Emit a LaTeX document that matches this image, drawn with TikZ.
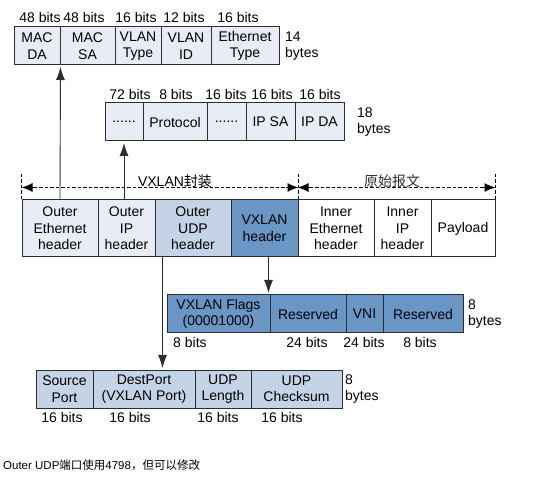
\documentclass[tikz,border=0pt]{standalone}
\usepackage{fontspec}
\setmainfont{Liberation Sans}
\newfontfamily\cjk{Noto Sans CJK SC}
\usepackage{tikz}
\usetikzlibrary{positioning,arrows.meta,calc}
\definecolor{framegray}{RGB}{45,45,45}
\definecolor{paleblue}{RGB}{232,236,244}
\definecolor{udpblue}{RGB}{196,211,229}
\definecolor{vxblue}{RGB}{106,150,198}
\tikzset{
    field/.style = {
        draw=framegray,
        shape=rectangle,
        inner sep=0pt,
        align=center,
        line width=1pt,
        font=\fontsize{14}{16.5}\selectfont
    },
    note/.style = {
        inner sep=0pt,
        align=left,
        font=\fontsize{14}{16.5}\selectfont
    },
    span/.style = {
        draw,
        line width=1.7pt,
        dash pattern=on 3.5pt off 2pt
    },
    spanhead/.style = {
        draw,
        solid,
        line width=1.2pt,
        -{Latex[length=11pt,width=9pt]}
    },
    tick/.style = {
        draw,
        line width=1.7pt,
        dash pattern=on 3.5pt off 2pt
    },
    link/.style = {
        draw=framegray,
        line width=0.9pt,
        shorten >=1.5pt,
        ->
    },
    >={Latex[length=13pt,width=9pt]},
}
\begin{document}
\begin{tikzpicture}[x=1pt,y=-1pt]
                \useasboundingbox (0,0) rectangle (536,481);

                % Ethernet header
                \node[field, fill=paleblue, minimum width=46, minimum height=38] (macda) at (37,46) {MAC\\DA};
                \node[field, fill=paleblue, minimum width=55, minimum height=38] (macsa) at (87.5,46) {MAC\\SA};
                \node[field, fill=paleblue, minimum width=46, minimum height=38] (vtype) at (138,46) {VLAN\\Type};
                \node[field, fill=paleblue, minimum width=50, minimum height=38] (vid) at (186,46) {VLAN\\ID};
                \node[field, fill=paleblue, minimum width=68, minimum height=38] (etype) at (245,46) {Ethernet\\Type};
                \node[note] (bitsda) at (40,17) {48 bits};
                \node[note] (bitssa) at (84,17) {48 bits};
                \node[note] (bitsvt) at (136,17) {16 bits};
                \node[note] (bitsvid) at (184,17) {12 bits};
                \node[note] (bitset) at (238,17) {16 bits};
                \node[note, anchor=west] (byeth) at (285,46) {14\\bytes};

                % IP header
                \node[field, fill=paleblue, minimum width=38, minimum height=38] (dots1) at (124,122) {......};
                \node[field, fill=paleblue, minimum width=64, minimum height=38] (proto) at (175,122) {Protocol};
                \node[field, fill=paleblue, minimum width=39, minimum height=38] (dots2) at (226.5,122) {......};
                \node[field, fill=paleblue, minimum width=49, minimum height=38] (ipsa) at (270.5,122) {IP SA};
                \node[field, fill=paleblue, minimum width=49, minimum height=38] (ipda) at (319.5,122) {IP DA};
                \node[note] (bitsd1) at (130,94) {72 bits};
                \node[note] (bitspr) at (176,94) {8 bits};
                \node[note] (bitsd2) at (226,94) {16 bits};
                \node[note] (bitssa2) at (272,94) {16 bits};
                \node[note] (bitsda2) at (320,94) {16 bits};
                \node[note, anchor=west] (byip) at (357,122) {18\\bytes};

                % VXLAN frame
                \node[field, fill=paleblue, minimum width=76, minimum height=57] (oeth) at (60,228.5) {Outer\\Ethernet\\header};
                \node[field, fill=paleblue, minimum width=57, minimum height=57] (oip) at (126.5,228.5) {Outer\\IP\\header};
                \node[field, fill=udpblue, minimum width=76, minimum height=57] (oudp) at (193,228.5) {Outer\\UDP\\header};
                \node[field, fill=vxblue, minimum width=67, minimum height=57] (vxh) at (264.5,228.5) {VXLAN\\header};
                \node[field, fill=white, minimum width=76, minimum height=57] (ieth) at (336,228.5) {Inner\\Ethernet\\header};
                \node[field, fill=white, minimum width=57, minimum height=57] (iip) at (402.5,228.5) {Inner\\IP\\header};
                \node[field, fill=white, minimum width=64, minimum height=57] (pay) at (463,228.5) {Payload};

                \path[tick] (oeth.north west) -- ++(0,-25);
                \path[tick] (vxh.north east) -- ++(0,-25);
                \path[tick] (pay.north east) -- ++(0,-25);
                \path[span] ([xshift=12pt,yshift=12pt]oeth.north west) -- ([xshift=-12pt,yshift=12pt]vxh.north east);
                \path[span] ([xshift=12pt,yshift=12pt]ieth.north west) -- ([xshift=-12pt,yshift=12pt]pay.north east);
                \path[spanhead] ([xshift=13pt,yshift=12pt]oeth.north west) -- ([yshift=12pt]oeth.north west);
                \path[spanhead] ([xshift=-13pt,yshift=12pt]vxh.north east) -- ([yshift=12pt]vxh.north east);
                \path[spanhead] ([xshift=13pt,yshift=12pt]ieth.north west) -- ([yshift=12pt]ieth.north west);
                \path[spanhead] ([xshift=-13pt,yshift=12pt]pay.north east) -- ([yshift=12pt]pay.north east);
                \node[note] (encap) at (175,181) {VXLAN{\cjk 封装}};
                \node[note, text=framegray] (orig) at (392,181) {\cjk 原始报文};

                % VXLAN header
                \node[field, fill=vxblue, minimum width=103, minimum height=38] (flags) at (218.5,314) {VXLAN Flags\\(00001000)};
                \node[field, fill=vxblue, minimum width=76, minimum height=38] (res1) at (308,314) {Reserved};
                \node[field, fill=vxblue, minimum width=37, minimum height=38] (vni) at (364.5,314) {VNI};
                \node[field, fill=vxblue, minimum width=80, minimum height=38] (res2) at (423,314) {Reserved};
                \node[note, anchor=west] (bitsfl) at (173,342) {8 bits};
                \node[note] (bitsr1) at (307,342) {24 bits};
                \node[note] (bitsvni) at (364,342) {24 bits};
                \node[note] (bitsr2) at (420,342) {8 bits};
                \node[note, anchor=west] (byvx) at (468,314) {8\\bytes};

                % UDP header
                \node[field, fill=udpblue, minimum width=57, minimum height=38] (sport) at (64.5,389) {Source\\Port};
                \node[field, fill=udpblue, minimum width=102, minimum height=38] (dport) at (144,389) {DestPort\\(VXLAN Port)};
                \node[field, fill=udpblue, minimum width=56, minimum height=38] (ulen) at (223,389) {UDP\\Length};
                \node[field, fill=udpblue, minimum width=91, minimum height=38] (csum) at (296.5,389) {UDP\\Checksum};
                \node[note] (bitssp) at (62,417) {16 bits};
                \node[note] (bitsdp) at (130,417) {16 bits};
                \node[note] (bitsul) at (218,417) {16 bits};
                \node[note] (bitscs) at (282,417) {16 bits};
                \node[note, anchor=west] (byudp) at (345,389) {8\\bytes};

                % links
                \coordinate (udptap) at ([xshift=8pt]oudp.south west);
                \coordinate (vxtap) at ([xshift=-2pt]flags.north east);
                \path[link] (oeth.north) -- (macda.south east);
                \path[link] (dots1.south |- oip.north) -- (dots1.south);
                \path[link] (udptap) -- (udptap |- dport.north);
                \path[link] (vxtap |- vxh.south) -- (vxtap);

                \node[inner sep=0pt, anchor=west, font=\fontsize{11.5}{13}\selectfont] (remark) at (3,465) {Outer UDP{\cjk 端口使用}4798{\cjk ，但可以修改}};
            \end{tikzpicture}
\end{document}
